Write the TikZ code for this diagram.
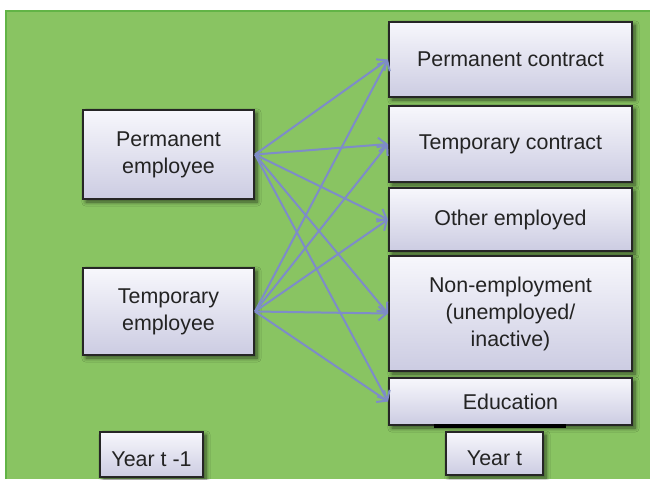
\documentclass[tikz,border=0pt]{standalone}
\usepackage{fontspec}
\setmainfont{Liberation Sans}
\usetikzlibrary{arrows.meta,shadows.blur}
\definecolor{bggreen}{RGB}{137,196,98}
\definecolor{edgegreen}{RGB}{98,180,70}
\definecolor{arrowblue}{RGB}{126,140,200}
\definecolor{boxtop}{RGB}{247,247,252}
\definecolor{boxbot}{RGB}{204,204,226}
\definecolor{boxtext}{RGB}{35,35,35}

\begin{document}
\begin{tikzpicture}[x=0.5pt,y=-0.5pt,
  statebox/.style n args={2}{draw=black!85,line width=1pt,top color=boxtop,bottom color=boxbot,minimum width=#1,minimum height=#2,inner sep=0pt,align=center,text=boxtext,font=\fontsize{10.7}{13.5}\selectfont,blur shadow={shadow xshift=1.5pt,shadow yshift=-1.5pt,shadow blur steps=6,shadow opacity=60}},
  yearbox/.style={text height=12pt,text depth=0pt},
  flow/.style={draw=arrowblue,line width=1pt,-{Straight Barb[length=4pt,width=7pt]}}]
\useasboundingbox (0,0) rectangle (650,479);
\fill[bggreen] (6,11) rectangle (650,479);
\draw[edgegreen,line width=0.6pt] (6,479) -- (6,11) -- (650,11);

% year t-1
\node[statebox={85.5pt}{44.5pt}] (pe) at (168.5,154.5) {Permanent\\employee};
\node[statebox={85.5pt}{43.5pt}] (te) at (168.5,311.5) {Temporary\\employee};
\node[statebox={51.5pt}{22.5pt},yearbox] (yp) at (151.5,454.5) {Year t -1};

% year t
\node[statebox={121.5pt}{37.5pt}] (pc) at (510.5,59.5) {Permanent contract};
\node[statebox={121.5pt}{38pt}] (tc) at (510.5,144) {Temporary contract};
\node[statebox={121.5pt}{31.5pt}] (oe) at (510.5,219.5) {Other employed};
\node[statebox={121.5pt}{57.5pt}] (ne) at (510.5,313.5) {Non-employment\\(unemployed/\\inactive)};
\node[statebox={121.5pt}{23.5pt}] (ed) at (510.5,401.5) {Education};
\node[statebox={48.5pt}{21.5pt},yearbox] (yt) at (494.5,453.5) {Year t};
\draw[black,line width=1.6pt] ([xshift=-38.25pt]ed.south) -- ([xshift=27.75pt]ed.south);

\foreach \s in {pe,te}
  \foreach \t in {pc,tc,oe,ne,ed} {
    \draw[flow] (\s.east) -- (\t.west);
  }
\end{tikzpicture}
\end{document}
